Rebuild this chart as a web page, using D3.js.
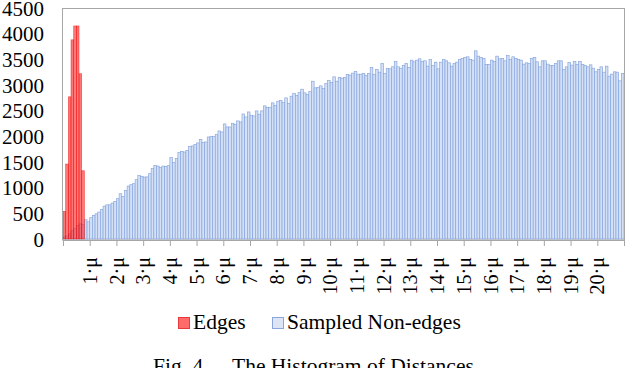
<!DOCTYPE html>
<meta charset="utf-8">
<html>
<head>
  <meta charset="utf-8">
  <script src="https://d3js.org/d3.v7.min.js"></script>
  <style>
    body { margin: 0; background: #fff; }
    svg { display: block; font-family: "Liberation Serif", "Times New Roman", serif; }
  </style>
</head>
<body>
  <svg width="626" height="368"></svg>

  <script>
    // histogram bins are 0.1 mu wide, starting at 0
    const binWidth = 0.1;

    // Edges (first 8 bins)
    const edges = [540, 1460, 2770, 3880, 4150, 4150, 3220, 1330];

    // Sampled Non-edges (210 bins, 0 .. 21 mu)
    const nonEdges = [
      40, 60, 100, 165, 210, 260, 295, 283,
      375, 335, 415, 460, 490, 525, 575, 640, 665, 665, 700, 730,
      785, 882, 830, 947, 1031, 1058, 1077, 1155, 1240, 1220, 1206, 1210, 1272, 1370, 1435, 1421,
      1390, 1421, 1415, 1428, 1585, 1487, 1571, 1682, 1708, 1695, 1728, 1806, 1812, 1838, 1871, 1942,
      1878, 1890, 1987, 2001, 2001, 2034, 2105, 2085, 2241, 2182, 2182, 2248, 2235, 2300, 2280, 2436,
      2378, 2475, 2411, 2398, 2495,
      2430, 2496, 2594, 2561, 2567, 2652, 2600, 2684, 2697, 2658, 2749, 2639, 2782, 2834, 2795, 2854,
      2918, 2847, 2815, 2873, 3074, 2944, 2951, 2983, 2932, 3029, 3088, 3049, 3159, 3074, 3147, 3133,
      3147, 3205, 3192, 3231, 3264, 3211,
      3211, 3224, 3185, 3224, 3341, 3205, 3302, 3250, 3419, 3224, 3322, 3315, 3354, 3458, 3354, 3328,
      3380, 3419, 3341, 3484, 3452, 3484, 3510, 3458, 3471, 3367, 3497, 3380, 3445, 3315, 3445, 3497,
      3471, 3432, 3367, 3419, 3445, 3497, 3517,
      3536, 3549, 3497, 3484, 3666, 3562, 3536, 3517, 3400, 3400, 3484, 3458, 3562, 3510, 3517, 3471,
      3575, 3497, 3549, 3517, 3497, 3484, 3406, 3432, 3419, 3517, 3536, 3452, 3354, 3471, 3471, 3406,
      3380, 3380, 3419, 3471, 3471, 3302, 3354, 3439, 3387, 3458, 3400, 3458, 3400, 3380, 3354, 3393,
      3328, 3257, 3302, 3354, 3250, 3367, 3172, 3211, 3257, 3250, 3081, 3224
    ];

    const yTicks = [0, 500, 1000, 1500, 2000, 2500, 3000, 3500, 4000, 4500];
    const xTicks = d3.range(0, 22);
    const xTickLabels = ["", "1·μ", "2·μ", "3·μ", "4·μ", "5·μ", "6·μ", "7·μ", "8·μ", "9·μ", "10·μ",
      "11·μ", "12·μ", "13·μ", "14·μ", "15·μ", "16·μ", "17·μ", "18·μ", "19·μ", "20·μ", ""];
    const seriesNames = ["Edges", "Sampled Non-edges"];

    let svg = d3.select("svg");
    let serif = "Liberation Serif, Times New Roman, serif";

    // plot box
    let plot = { left: 63, right: 624, top: 8, bottom: 239 };

    let x = d3.scaleLinear().domain([0, 21]).range([plot.left, plot.right]);
    let y = d3.scaleLinear().domain([0, 4500]).range([plot.bottom, plot.top]);

    let frame = "#a6a6a6";

    // bars - non-edges first, edges drawn on top
    svg.append("g")
      .selectAll("rect")
      .data(nonEdges)
      .enter()
      .append("rect")
      .attr("x", function(d, i) { return x(i * binWidth); })
      .attr("width", x(binWidth) - x(0))
      .attr("y", function(d) { return y(d); })
      .attr("height", function(d) { return y(0) - y(d); })
      .attr("fill", "#d4e0f5")
      .attr("stroke", "#84a3de")
      .attr("stroke-width", 0.65);

    svg.append("g")
      .selectAll("rect")
      .data(edges)
      .enter()
      .append("rect")
      .attr("x", function(d, i) { return x(i * binWidth); })
      .attr("width", x(binWidth) - x(0))
      .attr("y", function(d) { return y(d); })
      .attr("height", function(d) { return y(0) - y(d); })
      .attr("fill", "rgba(255,30,30,0.6)")
      .attr("stroke", "rgba(240,0,0,0.6)")
      .attr("stroke-width", 0.65);

    // frame
    svg.append("rect")
      .attr("x", plot.left - 0.5)
      .attr("y", plot.top + 0.5)
      .attr("width", plot.right - plot.left + 1)
      .attr("height", plot.bottom - plot.top + 0.5)
      .attr("fill", "none")
      .attr("stroke", frame)
      .attr("stroke-width", 1);

    // x axis
    let xAxis = d3.axisBottom(x)
      .tickValues(xTicks)
      .tickSize(6)
      .tickFormat(function(d, i) { return xTickLabels[i]; });

    let gx = svg.append("g")
      .attr("transform", "translate(0," + (plot.bottom + 1) + ")")
      .call(xAxis);
    gx.attr("font-family", serif);
    gx.select(".domain").attr("stroke", frame);
    gx.selectAll(".tick line").attr("stroke", frame);
    gx.selectAll(".tick text")
      .attr("font-family", serif)
      .attr("font-size", "20px")
      .attr("fill", "#000")
      .attr("text-anchor", "end")
      .attr("transform", "rotate(-90)")
      .attr("x", -17)
      .attr("y", 0)
      .attr("dy", "0.33em");

    // y axis (labels only)
    let yAxis = d3.axisLeft(y)
      .tickValues(yTicks)
      .tickSize(0)
      .tickPadding(19)
      .tickFormat(d3.format("d"));

    let gy = svg.append("g")
      .attr("transform", "translate(" + plot.left + ",0)")
      .call(yAxis);
    gy.attr("font-family", serif);
    gy.select(".domain").remove();
    gy.selectAll(".tick text")
      .attr("font-family", serif)
      .attr("font-size", "21px")
      .attr("fill", "#000")
      .attr("dy", "0.34em");

    // legend
    let legend = svg.append("g").attr("font-size", "21.5px").attr("font-family", serif);
    let legendItems = [
      { name: seriesNames[0], x: 178, fill: "#ff6b6b", stroke: "#e83a3a" },
      { name: seriesNames[1], x: 272, fill: "#dde5f5", stroke: "#8aa6dc" }
    ];
    legendItems.forEach(function(d) {
      legend.append("rect")
        .attr("x", d.x + 0.5)
        .attr("y", 317.5)
        .attr("width", 11)
        .attr("height", 11)
        .attr("fill", d.fill)
        .attr("stroke", d.stroke);
      legend.append("text")
        .attr("x", d.x + 15)
        .attr("y", 329)
        .text(d.name);
    });

    // caption (cut at the bottom like the source)
    svg.append("text")
      .attr("x", 153)
      .attr("y", 373)
      .attr("font-family", serif)
      .attr("font-size", "21.5px")
      .text("Fig. 4.");
    svg.append("text")
      .attr("x", 232)
      .attr("y", 373)
      .attr("font-family", serif)
      .attr("font-size", "21.5px")
      .text("The Histogram of Distances");
  </script>
</body>
</html>
